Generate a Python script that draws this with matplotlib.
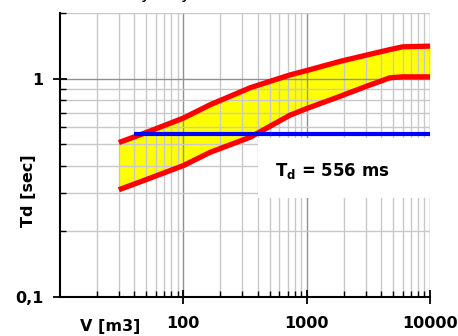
import numpy as np
import matplotlib
matplotlib.use('Agg')
import matplotlib.pyplot as plt
from matplotlib.ticker import LogLocator, NullFormatter, FixedLocator

# volume [m3] and decay-time band (upper / lower limits)
V = [30, 50, 100, 165, 350, 730, 1000, 1860, 3000, 4740, 6000, 10000]
td_upper = [0.51, 0.567, 0.66, 0.76, 0.91, 1.04, 1.09, 1.20, 1.28, 1.36, 1.40, 1.41]
td_lower = [0.31, 0.345, 0.40, 0.46, 0.54, 0.68, 0.73, 0.83, 0.92, 1.01, 1.02, 1.02]

# measured value
td_meas = 0.556
V_meas = [40, 10000]

xticks = [100, 1000, 10000]
xtick_labels = ['100', '1000', '10000']
yticks = [0.1, 1]
ytick_labels = ['0,1', '1']

plt.rcParams['font.family'] = 'DejaVu Sans'
plt.rcParams['font.weight'] = 'bold'
plt.rcParams['mathtext.fontset'] = 'custom'
plt.rcParams['mathtext.bf'] = 'DejaVu Sans:bold'
plt.rcParams['mathtext.rm'] = 'DejaVu Sans:bold'

fig = plt.figure(figsize=(4.58, 3.36), dpi=100)
ax = fig.add_axes([60/458, 39/336, 370/458, 284/336])

ax.set_xscale('log')
ax.set_yscale('log')
ax.set_xlim(10, 10000)
ax.set_ylim(0.1, 2.0)

ax.fill_between(V, td_lower, td_upper, color='#ffff00', lw=0, zorder=1)
ax.plot(V, td_upper, color='#ff0000', lw=3.8, zorder=3, solid_capstyle='butt')
ax.plot(V, td_lower, color='#ff0000', lw=3.8, zorder=3, solid_capstyle='butt')
ax.plot(V_meas, [td_meas, td_meas], color='#0000ff', lw=3.0, zorder=4, solid_capstyle='butt')

# grid
ax.xaxis.set_minor_locator(LogLocator(base=10, subs=np.arange(2, 10)))
ax.yaxis.set_minor_locator(LogLocator(base=10, subs=np.arange(2, 10)))
ax.xaxis.set_minor_formatter(NullFormatter())
ax.yaxis.set_minor_formatter(NullFormatter())
ax.grid(True, which='minor', color='#c8c8c8', lw=1.0)
ax.grid(True, which='major', color='#909090', lw=1.0)

ax.xaxis.set_major_locator(FixedLocator(xticks))
ax.set_xticklabels(xtick_labels, fontsize=11.5, fontweight='bold')
ax.yaxis.set_major_locator(FixedLocator(yticks))
ax.set_yticklabels(ytick_labels, fontsize=11.5, fontweight='bold')

ax.tick_params(axis='x', which='major', direction='inout', length=10, width=1.3, pad=9)
ax.tick_params(axis='y', which='major', direction='inout', length=10, width=1.3, pad=7)
ax.tick_params(axis='both', which='minor', direction='in', length=4, width=1.0)

for s in ['top', 'right']:
    ax.spines[s].set_visible(False)
for s in ['left', 'bottom']:
    ax.spines[s].set_linewidth(1.5)
    ax.spines[s].set_zorder(5)

# result box
ax.add_patch(plt.Rectangle((0.535, 0.349), 0.465, 0.211, transform=ax.transAxes,
                           facecolor='white', edgecolor='none', zorder=5))
ax.text(0.58, 0.445, r'$\mathbf{T_d}$ = 556 ms', transform=ax.transAxes,
        fontsize=12, fontweight='bold', va='center', ha='left', zorder=6)

# axis labels
fig.text(110/458, 10/336, 'V [m3]', fontsize=11.5, fontweight='bold', ha='center', va='center')
fig.text(28/458, 145/336, 'Td [sec]', fontsize=11.5, fontweight='bold', rotation=90,
         ha='center', va='center')

# title above the chart, cut off by the top edge as in the original
fig.text(145/458, 1 + 2/336, 'y', fontsize=12, fontweight='normal', ha='center', va='baseline')
fig.text(185/458, 1 + 2/336, 'y', fontsize=12, fontweight='normal', ha='center', va='baseline')

fig.savefig('out.png', dpi=100)
